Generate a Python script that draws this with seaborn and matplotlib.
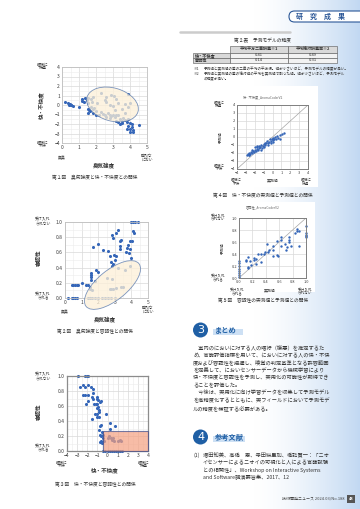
import numpy as np
import pandas as pd
import matplotlib
matplotlib.use("Agg")
import matplotlib.pyplot as plt
import seaborn as sns
from matplotlib.patches import Ellipse, Rectangle, Circle, FancyBboxPatch
from matplotlib.ticker import MultipleLocator

# ---------------- data ----------------
# Fig.1 odor intensity vs comfort
f1_x = [0.2, 0.35, 0.45, 0.4, 0.55, 0.65, 0.5, 1.0, 1.15, 1.2, 1.35, 1.45, 1.55, 1.7, 1.3, 1.5, 1.75,
        1.5, 1.6, 1.65, 1.8, 1.55, 1.8, 2.0, 1.9, 2.2, 2.4, 2.5, 2.7, 2.8, 2.9, 3.0, 3.1, 2.8, 3.2, 3.3,
        3.4, 3.3, 3.5, 3.4, 3.2, 3.6, 3.7, 3.8, 3.9, 4.0, 3.9, 4.0, 4.1, 4.2, 4.0, 4.2, 4.5, 3.85, 4.1,
        2.0, 2.3, 2.6, 3.5, 1.7,
        1.8, 2.05, 2.3, 2.5, 2.6, 2.8, 2.9, 3.05, 3.0, 3.2, 3.3, 3.5, 3.7, 3.9, 4.0, 3.7, 3.1, 2.6, 3.9]
f1_y = [0.3, 0.2, 0.1, 0.0, 0.0, -0.1, -0.05, -0.2, 0.4, 0.6, 0.7, 0.5, 0.7, 0.6, 0.3, 0.2, 0.3,
        -0.4, -0.5, -0.65, -0.45, -0.8, -0.8, -0.6, -0.3, -1.0, -0.9, -1.1, -0.8, -1.0, -1.2, -1.0, -1.3, -1.4, -1.1, -1.0,
        -1.5, -1.8, -1.9, -2.0, -1.7, -1.4, -1.6, -1.8, -1.5, -1.9, -2.2, -2.5, -2.3, -2.6, -2.8, -2.8, -2.1, -2.5, -2.0,
        -1.0, -0.7, -1.3, -1.7, -0.2,
        0.8, 0.2, 1.3, 0.5, 0.3, 0.0, 1.1, 1.0, -0.1, 0.6, 0.2, -0.4, 0.1, -0.2, 0.2, -0.8, -0.5, 0.8, 1.2]

# Fig.2 odor intensity vs acceptability
f2_x = [0.2, 0.4, 0.5, 0.6, 0.7, 1.4, 1.5, 1.6, 1.8, 2.0, 2.2, 2.4, 2.6, 2.8, 3.0,
        0.4, 0.5, 0.6, 0.7, 0.8, 1.0, 1.25, 1.4, 1.5, 1.5, 1.6, 1.55, 1.55, 1.55, 1.55, 1.8, 1.85, 2.0,
        1.7, 2.0, 2.3, 2.6, 2.7, 2.8, 2.86, 2.9, 3.0, 2.96, 3.1, 2.84, 2.9, 3.1, 3.2, 3.3, 3.34, 3.34, 3.4,
        3.66, 3.76, 3.86, 3.9, 3.8, 3.94, 4.04, 4.0, 4.1, 4.2, 4.4, 4.1, 4.16, 3.96, 3.9, 3.6, 3.2,
        2.5, 2.84, 2.7, 2.8, 2.9, 3.1, 3.36, 3.5]
f2_y = [0.0] * 15 + \
       [0.17, 0.17, 0.17, 0.17, 0.17, 0.2, 0.17, 0.17, 0.15, 0.12, 0.1, 0.33, 0.3, 0.27, 0.24, 0.22, 0.37, 0.34,
        0.67, 0.71, 0.63, 0.62, 0.55, 0.48, 0.42, 0.45, 0.5, 0.57, 0.55, 0.83, 0.79, 0.86, 0.89, 0.75, 0.69, 0.64, 0.76,
        0.61, 0.66, 0.59, 0.64, 0.70, 0.75, 0.75, 1.0, 1.0, 1.0, 1.0, 0.88, 0.85, 0.52, 0.42, 0.37, 0.39,
        0.26, 0.25, 0.12, 0.12, 0.12, 0.13, 0.14, 0.14]

# Fig.3 comfort vs acceptability
f3_x = [-2.9, -2.2, -2.05, -1.9,
        -2.7, -2.45, -2.25, -1.95, -1.65, -1.45,
        -2.4, -2.2, -1.9, -1.55, -1.4, -1.45,
        -2.1, -1.9, -1.3, -1.15, -1.0, -1.05, -1.0, -0.9, -0.75, -0.6,
        -1.05, -0.95, -0.8, -0.8, -1.2, -1.05, -1.0, -0.8, -1.55, -0.15,
        -0.6, -0.7, -0.85, 0.2, 0.7, 0.2,
        -0.75, -0.6, -0.45, -0.3, -0.65, -0.5, -0.75, -0.55, -0.4,
        0.15, 0.3, 0.45, 0.65, 0.55, 0.0, 1.05, 1.2, 1.35,
        -0.4, -0.2, 0.0, 0.2, 0.4, 0.6, 0.8, 1.0, 1.2, 1.4]
f3_y = [1.0, 1.0, 1.0, 1.0,
        0.86, 0.88, 0.86, 0.88, 0.85, 0.83,
        0.75, 0.75, 0.75, 0.72, 0.70, 0.78,
        0.63, 0.67, 0.63, 0.63, 0.63, 0.70, 0.72, 0.68, 0.65, 0.67,
        0.57, 0.59, 0.55, 0.52, 0.5, 0.5, 0.45, 0.45, 0.43, 0.50,
        0.35, 0.33, 0.28, 0.37, 0.34, 0.29,
        0.22, 0.2, 0.17, 0.13, 0.13, 0.11, 0.12, 0.25, 0.22,
        0.2, 0.17, 0.15, 0.14, 0.17, 0.18, 0.13, 0.15, 0.14,
        0.0, 0.0, 0.0, 0.0, 0.0, 0.0, 0.0, 0.0, 0.0, 0.0]

# Fig.4 comfort measured vs predicted
f4_x = [-2.9, -2.8, -2.7, -2.6, -2.5, -2.4, -2.3, -2.2, -2.1, -2.0, -2.0, -1.9, -1.8, -1.7, -1.6, -1.5, -1.5,
        -1.4, -1.3, -1.2, -1.1, -1.0, -1.0, -0.9, -0.8, -0.7, -0.6, -0.5, -0.4, -0.3, -0.2, -0.1, 0.0, 0.1,
        0.2, 0.3, 0.4, 0.5, 0.6, 0.8, 0.9, 1.1, 1.3, -2.3, -1.3, -0.5, -0.2, 0.1, -1.8, -2.6]
f4_y = [-2.3, -2.1, -2.2, -2.0, -2.1, -1.9, -2.0, -1.7, -1.9, -1.6, -1.3, -1.8, -1.5, -1.2, -1.6, -1.4, -1.1,
        -1.3, -1.0, -1.4, -1.1, -0.9, -1.2, -0.7, -1.0, -0.8, -0.5, -0.8, -0.6, -0.3, -0.5, -0.2, -0.4, -0.1,
        -0.3, 0.0, -0.2, 0.1, -0.1, 0.2, -0.3, 0.4, 0.5, -1.6, -1.6, -1.0, -0.8, -0.6, -1.1, -2.3]

# Fig.5 acceptability measured vs predicted
f5_x = [0.0, 0.0, 0.0, 0.0, 0.0, 0.0, 0.0, 0.0,
        0.1, 0.11, 0.14, 0.13, 0.14, 0.18, 0.16, 0.22, 0.22, 0.25, 0.25, 0.29, 0.33, 0.33, 0.37, 0.39,
        0.44, 0.42, 0.45, 0.5, 0.5, 0.51, 0.56, 0.56, 0.58, 0.63, 0.63, 0.63, 0.68, 0.7, 0.71,
        0.75, 0.75, 0.75, 0.78, 0.84, 0.86, 0.87, 0.89, 0.89, 1.0, 1.0, 1.0, 1.0, 1.0]
f5_y = [0.28, 0.25, 0.2, 0.15, 0.12, 0.08, 0.05, 0.02,
        0.28, 0.3, 0.35, 0.19, 0.17, 0.22, 0.28, 0.33, 0.3, 0.31, 0.23, 0.4, 0.4, 0.27, 0.4, 0.43,
        0.43, 0.56, 0.47, 0.53, 0.36, 0.47, 0.61, 0.39, 0.36, 0.68, 0.63, 0.53, 0.56, 0.46, 0.51,
        0.68, 0.63, 0.6, 0.54, 0.75, 0.78, 0.81, 0.79, 0.54, 0.86, 0.75, 0.72, 0.7, 0.68]

# table 2
tbl_rows = ["快・不快度", "容認性"]
tbl_cols = ["平均平方二乗誤差※1", "平均絶対誤差率※2"]
tbl_vals = [["0.41", "0.49"], ["0.14", "0.31"]]

# tolerance region of fig.3 (x from, y upto)
tol_x0, tol_y1 = -0.4, 0.27

# ---------------- style ----------------
sns.set_style("white")
plt.rcParams['font.family'] = ['Noto Sans CJK JP', 'DejaVu Sans']
BLUE = '#3566b8'
TXT = '#333333'
W, H = 360, 509
fig = plt.figure(figsize=(3.6, 5.09), dpi=100)
fig.patch.set_facecolor('white')
bg = fig.add_axes([0, 0, 1, 1], zorder=0)
bg.set_xlim(0, W); bg.set_ylim(H, 0); bg.axis('off')

# right-side gradient
xs = np.linspace(0, 1, 300)
grad = np.zeros((1, 300, 4))
grad[..., 0] = 0.76; grad[..., 1] = 0.85; grad[..., 2] = 0.95
grad[..., 3] = xs ** 1.6
bg.imshow(grad, extent=[250, 360, 509, 0], aspect='auto', zorder=0)
# white panels behind fig 4/5
bg.add_patch(Rectangle((180, 86), 138, 101, fc='white', ec='none', zorder=1))
bg.add_patch(Rectangle((180, 202), 135, 90, fc='white', ec='none', zorder=1))


def T(x, y, s, size=3.5, **kw):
    kw.setdefault('ha', 'center'); kw.setdefault('va', 'center')
    kw.setdefault('color', TXT)
    bg.text(x, y, s, fontsize=size, zorder=5, **kw)


def add_ax(x0, y0, x1, y1):
    return fig.add_axes([x0 / W, 1 - y1 / H, (x1 - x0) / W, (y1 - y0) / H], zorder=2)


def style_ax(ax, ec, lw, fs, minor_x=None, minor_y=None):
    for s in ax.spines.values():
        s.set_color(ec); s.set_linewidth(lw); s.set_visible(True)
    ax.tick_params(length=0, labelsize=fs, colors='#404040', pad=1.5)
    if minor_x:
        ax.xaxis.set_minor_locator(MultipleLocator(minor_x))
    if minor_y:
        ax.yaxis.set_minor_locator(MultipleLocator(minor_y))
    ax.grid(True, which='major', color='#d9d9d9', lw=0.5)
    ax.grid(True, which='minor', color='#ececec', lw=0.4)
    ax.set_axisbelow(True)
    ax.set_xlabel(''); ax.set_ylabel('')


# header
bg.add_patch(FancyBboxPatch((289, 11), 90, 11, boxstyle='round,pad=0,rounding_size=5.5',
                            fc='white', ec='#2b5797', lw=0.8, zorder=3))
for i, ch in enumerate("研究成果"):
    T(299 + 14 * i, 16.5, ch, size=5, color='#2b5797', fontweight='bold')
bg.plot([180, 290], [32, 32], color='#cccccc', lw=1.8, zorder=2)

# ---------------- Fig 1 ----------------
ax1 = add_ax(62, 67, 147, 143)
sns.scatterplot(x=f1_x, y=f1_y, ax=ax1, color=BLUE, s=5, linewidth=0, zorder=2)
ax1.set_xlim(0, 5); ax1.set_ylim(-4, 4)
ax1.set_xticks(range(0, 6)); ax1.set_yticks(range(-4, 5))
style_ax(ax1, '#bfbfbf', 0.6, 3.6, 0.5, 0.5)
ax1.add_patch(Ellipse((112.5, 104.5), 53, 33, angle=16, transform=bg.transData,
                      fc='#fdf0d8', ec='#4f72aa', lw=0.6, alpha=0.75, zorder=3, clip_on=False))
T(121, 77, "臭気強度との\n関係性が低い領域", size=3.2, linespacing=1.1)
bg.plot([132, 125], [86, 101], color='#333333', lw=0.4, zorder=4)
T(42.5, 66, "極端に\n快適", size=2.8, linespacing=1.0)
T(42.5, 144, "極端に\n不快", size=2.8, linespacing=1.0)
T(42, 105, "快・不快度", size=4, rotation=90, fontweight='bold')
T(62, 158.5, "無臭", size=2.8)
T(147, 158, "強烈な\nにおい", size=2.8, linespacing=1.0)
T(104, 166, "臭気強度", size=4, fontweight='bold')
T(95, 177, "第１図　臭気強度と快・不快度との関係", size=3.4)

# ---------------- Fig 2 ----------------
ax2 = add_ax(65, 222, 148, 298)
sns.scatterplot(x=f2_x, y=f2_y, ax=ax2, color=BLUE, s=5, linewidth=0, zorder=2, clip_on=False)
ax2.set_xlim(0, 5); ax2.set_ylim(0, 1.0)
ax2.set_xticks(range(0, 6)); ax2.set_yticks(np.round(np.arange(0, 1.01, 0.2), 1))
ax2.set_yticklabels([f"{v:.1f}" for v in np.arange(0, 1.01, 0.2)])
style_ax(ax2, '#bfbfbf', 0.6, 3.6, 0.5, 0.1)
ax2.add_patch(Ellipse((112.5, 285), 68, 30, angle=-39, transform=bg.transData,
                      fc='#fdf0d8', ec='#4f72aa', lw=0.6, alpha=0.75, zorder=3, clip_on=False))
T(84, 231, "臭気強度との\n関係性が低い領域", size=3.2, linespacing=1.1)
bg.plot([104, 118], [240, 275], color='#333333', lw=0.4, zorder=4)
T(43, 221, "受け入れ\nられない", size=2.8, linespacing=1.0)
T(43, 296, "受け入れ\nられる", size=2.8, linespacing=1.0)
T(39, 258, "容認性", size=4, rotation=90, fontweight='bold')
T(65, 312, "無臭", size=2.8)
T(148, 310, "強烈な\nにおい", size=2.8, linespacing=1.0)
T(105, 319.5, "臭気強度", size=4, fontweight='bold')
T(95, 331, "第２図　臭気強度と容認性との関係", size=3.4)

# ---------------- Fig 3 ----------------
ax3 = add_ax(67, 376, 148, 451)
sns.scatterplot(x=f3_x, y=f3_y, ax=ax3, color=BLUE, s=5, linewidth=0, zorder=2, clip_on=False)
ax3.set_xlim(-4, 4); ax3.set_ylim(0, 1.0)
ax3.set_xticks(range(-4, 5)); ax3.set_yticks(np.round(np.arange(0, 1.01, 0.2), 1))
ax3.set_yticklabels([f"{v:.1f}" for v in np.arange(0, 1.01, 0.2)])
style_ax(ax3, '#8c8c8c', 0.9, 3.6, 0.5, 0.1)
ax3.add_patch(Rectangle((tol_x0, 0), 4 - tol_x0, tol_y1, fc='#f4a081', ec='#3b4a8a',
                        lw=0.8, alpha=0.7, zorder=3, clip_on=False))
T(124, 405, "許容範囲", size=3.2)
bg.plot([128, 133], [410, 432], color='#333333', lw=0.4, zorder=4)
T(43, 376, "受け入れ\nられない", size=2.8, linespacing=1.0)
T(43, 448, "受け入れ\nられる", size=2.8, linespacing=1.0)
T(39, 412, "容認性", size=4, rotation=90, fontweight='bold')
T(62, 464, "極端に\n不快", size=2.8, linespacing=1.0)
T(144, 464, "極端に\n快適", size=2.8, linespacing=1.0)
T(105, 471, "快・不快度", size=4, fontweight='bold')
T(95, 484, "第３図　快・不快度と容認性との関係", size=3.4)

# ---------------- Table 2 ----------------
T(263, 40, "第２表　予測モデルの精度", size=3.4)
cx = [193, 230, 288, 337]
ry = [46, 52.5, 57.8, 63]
for j in range(1, 3):
    bg.add_patch(Rectangle((cx[j], ry[0]), cx[j + 1] - cx[j], ry[1] - ry[0], fc='#d9d9d9', ec='#555555', lw=0.4, zorder=3))
    T((cx[j] + cx[j + 1]) / 2, (ry[0] + ry[1]) / 2, tbl_cols[j - 1], size=2.9, fontweight='bold')
for i in range(2):
    bg.add_patch(Rectangle((cx[0], ry[i + 1]), cx[1] - cx[0], ry[i + 2] - ry[i + 1], fc='#d9d9d9', ec='#555555', lw=0.4, zorder=3))
    T(cx[0] + 1.5, (ry[i + 1] + ry[i + 2]) / 2, tbl_rows[i], size=3.0, ha='left', fontweight='bold')
    for j in range(1, 3):
        bg.add_patch(Rectangle((cx[j], ry[i + 1]), cx[j + 1] - cx[j], ry[i + 2] - ry[i + 1], fc='#f2f2f2', ec='#555555', lw=0.4, zorder=3))
        T((cx[j] + cx[j + 1]) / 2, (ry[i + 1] + ry[i + 2]) / 2, tbl_vals[i][j - 1], size=3.0)
T(193, 69, "※1", size=2.6, ha='left')
T(204, 69, "予測値と実測値の差の二乗の平均の平方根。値が小さいほど、予測モデルの精度が高い。", size=2.6, ha='left')
T(193, 74, "※2", size=2.6, ha='left')
T(204, 74, "予測値と実測値の差の絶対値の平均を実測値で割った値。値が小さいほど、予測モデル", size=2.6, ha='left')
T(204, 78.5, "の精度が高い。", size=2.6, ha='left')

# ---------------- Fig 4 ----------------
T(263, 97, "快・不快度_AromaCoderV2", size=2.3, color='#666666')
ax4 = add_ax(237, 105, 308, 169)
ax4.plot([-4, 4], [-4, 4], color='#a6a6a6', lw=0.5, zorder=1)
sns.scatterplot(x=f4_x, y=f4_y, ax=ax4, color=BLUE, s=3, linewidth=0, zorder=2)
ax4.set_xlim(-4, 4); ax4.set_ylim(-4, 4)
ax4.set_xticks(range(-4, 5)); ax4.set_yticks(range(-4, 5))
style_ax(ax4, '#7f7f7f', 0.7, 2.8)
T(221, 137, "予測値", size=2.8, rotation=90)
T(219, 104, "極端に\n快適", size=2.6, linespacing=1.0)
T(219, 167, "極端に\n不快", size=2.6, linespacing=1.0)
T(236, 181.5, "極端に\n不快", size=2.6, linespacing=1.0)
T(273, 180, "実測値", size=2.8)
T(306, 181.5, "極端に\n快適", size=2.6, linespacing=1.0)
T(263, 195, "第４図　快・不快度の実測値と予測値との関係", size=3.4)

# ---------------- Fig 5 ----------------
T(263, 207, "容認性_AromaCoderV2", size=2.3, color='#666666')
ax5 = add_ax(239, 218, 306, 278)
ax5.plot([0, 1], [0, 1], color='#a6a6a6', lw=0.5, zorder=1)
sns.scatterplot(x=f5_x, y=f5_y, ax=ax5, color=BLUE, s=3, linewidth=0, zorder=2, clip_on=False)
ax5.set_xlim(0, 1); ax5.set_ylim(0, 1)
tk = np.round(np.arange(0, 1.01, 0.2), 1)
ax5.set_xticks(tk); ax5.set_yticks(tk)
ax5.set_xticklabels([f"{v:.1f}" for v in tk]); ax5.set_yticklabels([f"{v:.1f}" for v in tk])
style_ax(ax5, '#7f7f7f', 0.7, 2.8)
T(223, 248, "予測値", size=2.8, rotation=90)
T(218, 217, "受け入れ\nられない", size=2.6, linespacing=1.0)
T(218, 277, "受け入れ\nられる", size=2.6, linespacing=1.0)
T(237, 291, "受け入れ\nられる", size=2.6, linespacing=1.0)
T(270, 290, "実測値", size=2.8)
T(305, 291, "受け入れ\nられない", size=2.6, linespacing=1.0)
T(263, 300, "第５図　容認性の実測値と予測値との関係", size=3.4)

# ---------------- Section 3 / 4 ----------------
SEC = '#1f5fa5'
for (cy, num, title, tw) in [(330, "3", "まとめ", 30), (437, "4", "参考文献", 32)]:
    bg.add_patch(Circle((200.5, cy), 7.5, fc=SEC, ec='none', zorder=3))
    T(200.5, cy + 0.3, num, size=8, color='white', family=['DejaVu Sans'])
    bg.add_patch(Rectangle((213, cy - 1), tw, 6, fc='#cde0f4', ec='none', zorder=3))
    T(215, cy, title, size=5.2, ha='left', color=SEC, fontweight='bold')

body = ["　室内のにおいに対する人の嗜好（嫌悪）を推定するた",
        "め、官能評価指標を用いて、においに対する人の快・不快",
        "度および容認性を把握し、嗅覚の判定基準となる許容範囲",
        "を定義して、においセンサーデータから機械学習により",
        "快・不快度と容認性を予測し、実用化の可能性が期待でき",
        "ることを評価した。",
        "　今後は、実用化に向け学習データを収集して予測モデル",
        "を高精度化するとともに、実フィールドにおいて予測モデ",
        "ルの精度を検証する必要がある。"]
for i, line in enumerate(body):
    T(193, 348 + 7.5 * i, line, size=3.75, ha='left')

T(193, 455, "(1)", size=3.75, ha='left')
refs = ["増田知美、高橋　恵、寺田絵里加、橋詰賢一：「ニオ",
        "イセンサーによるニオイの可視化と人による官能試験",
        "との相関性」、Workshop on Interactive Systems",
        "and Software講演要旨集、2017、12"]
for i, line in enumerate(refs):
    T(203, 455 + 7.6 * i, line, size=3.75, ha='left')

# footer
T(345, 499, "技術開発ニュース 2024.03/No.188", size=2.9, ha='right', color='#444444')
bg.add_patch(Rectangle((347, 495), 8, 8, fc='#555555', ec='none', zorder=3))
T(351, 499.2, "48", size=2.8, color='white', fontweight='bold')

fig.savefig("out.png", dpi=100)
